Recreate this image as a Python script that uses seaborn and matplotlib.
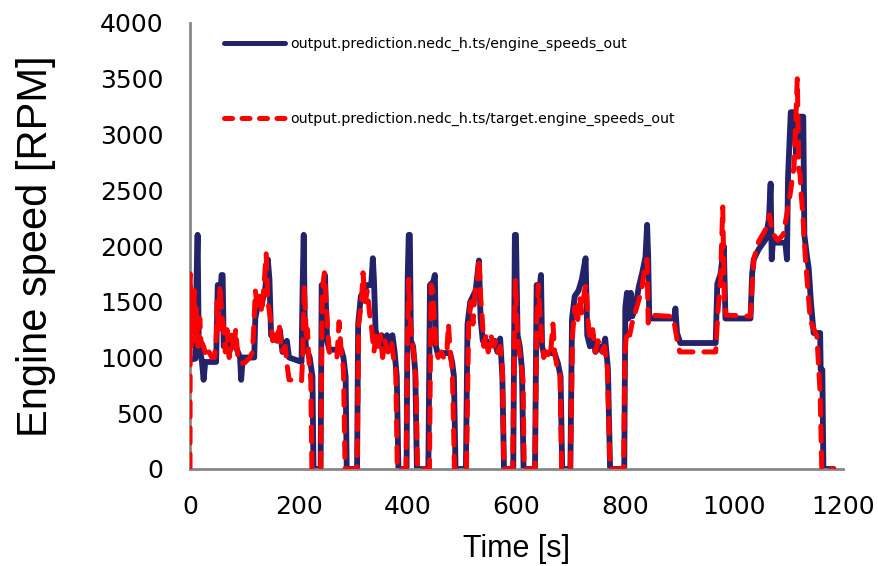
import matplotlib
matplotlib.use("Agg")
import matplotlib.pyplot as plt
import seaborn as sns
import pandas as pd

# ---- data ----
model_time = [0, 10, 12, 14, 16, 22, 25, 28, 48, 51, 56, 58, 60, 62, 66, 72, 80, 88, 92, 94, 97, 118, 120, 126, 130, 138, 143, 146, 149, 160, 165, 170, 178, 182, 205,
              207, 209, 211, 213, 220, 225, 227, 240, 242, 246, 248, 252, 256, 278, 282, 286, 288, 307, 309, 314, 320, 326, 333, 336, 338, 341, 345, 352, 356, 362, 366, 372, 376, 380, 383, 398, 400, 402,
              404, 406, 410, 414, 417, 438, 441, 447, 450, 452, 455, 478, 482, 485, 488, 507, 510, 515, 520, 525, 531, 534, 538, 545, 550, 560, 565, 570, 574, 577, 594, 597,
              599, 602, 606, 610, 613, 634, 637, 642, 645, 647, 650, 670, 676, 681, 684, 699, 702, 707, 714, 720, 727, 730, 735, 740, 745, 752, 758, 763, 768, 772, 798,
              800, 803, 806, 810, 813, 816, 820, 825, 831, 837, 840, 842, 844, 890, 892, 895, 901, 966, 969, 975, 981, 984, 1030, 1033, 1036, 1045, 1058, 1064, 1067, 1069, 1071, 1094, 1097, 1099, 1104, 1110, 1114, 1120, 1127, 1129, 1134, 1137, 1141, 1146, 1158, 1159, 1162, 1164, 1183]
model_rpm = [980, 990, 1700, 2100, 1150, 960, 800, 960, 960, 1650, 1580, 1740, 1740, 1100, 1200, 1050, 1150, 1050, 1000, 800, 1000, 1000, 1350, 1500, 1450, 1600, 1880, 1700, 1200, 1150, 1250, 1050, 1150, 1000, 960,
             1650, 2100, 1250, 1100, 1000, 830, 0, 0, 1650, 1650, 1740, 1150, 1070, 1070, 1000, 830, 0, 0, 1300, 1550, 1600, 1650, 1650, 1890, 1700, 1250, 1150, 1200, 1100, 1200, 1100, 1200, 1050, 830, 0, 0, 1700, 2100,
             2100, 1150, 1100, 870, 0, 0, 1650, 1680, 1740, 1100, 1040, 1040, 950, 830, 0, 0, 1300, 1500, 1550, 1600, 1870, 1350, 1150, 1150, 1100, 1150, 1050, 1170, 830, 0, 0, 2100,
             2100, 1200, 1100, 900, 0, 0, 1650, 1600, 1740, 1100, 1040, 1040, 950, 830, 0, 0, 1350, 1550, 1600, 1700, 1890, 1200, 1100, 1200, 1050, 1100, 1050, 1170, 900, 0, 0,
             1450, 1580, 1350, 1580, 1370, 1460, 1500, 1640, 1760, 1900, 2190, 1900, 1350, 1350, 1440, 1220, 1130, 1130, 1660, 1750, 2000, 1350, 1350, 1750, 1880, 1970, 2060, 2250, 2560, 1880, 2030, 2030, 1880, 2620, 3200, 3200, 2800, 3160, 3160, 2100, 1900, 1800, 1500, 1220, 1220, 890, 890, 0, 0]

target_time = [0, 0.5, 2, 4, 6, 8, 10, 12, 15, 18, 20, 25, 30, 35, 40, 45, 48, 50, 52, 55, 58, 62, 65, 68, 72, 76, 80, 84, 88, 92, 100, 110, 115, 118, 120, 124, 128, 132, 136, 140, 143, 148, 152, 156, 160, 164, 168, 175, 178, 182, 205,
               207, 210, 212, 214, 216, 218, 222, 224, 240, 243, 247, 250, 253, 256, 262, 270, 274, 278, 282, 285, 307, 310, 315, 318, 322, 326, 330, 334, 338, 342, 346, 350, 354, 358, 364, 370, 374, 378, 381, 397, 400, 402,
               405, 408, 412, 415, 418, 440, 443, 446, 450, 453, 456, 462, 466, 472, 475, 478, 482, 486, 508, 512, 516, 520, 524, 528, 531, 534, 537, 540, 544, 548, 553, 558, 562, 566, 570, 574, 577, 593, 596, 598,
               601, 604, 608, 612, 614, 634, 637, 640, 643, 646, 650, 655, 662, 667, 670, 675, 680, 683, 699, 703, 707, 712, 716, 720, 725, 728, 731, 735, 740, 745, 750, 756, 762, 767, 772, 797,
               799, 801, 804, 808, 812, 818, 825, 831, 837, 840, 842, 846, 880, 888, 892, 896, 900, 966, 970, 975, 979, 982, 985, 1030, 1033, 1036, 1045, 1058, 1065, 1070, 1080, 1090, 1097, 1103, 1110, 1116, 1119, 1121, 1123, 1126, 1131, 1140, 1152, 1158, 1161, 1183]
target_rpm = [0, 1750, 1100, 1550, 1200, 1600, 1150, 1450, 1100, 1350, 1150, 1100, 1000, 1050, 1000, 1000, 1150, 1500, 1200, 1650, 1400, 1250, 1050, 1250, 1000, 1200, 1050, 1250, 1000, 950, 950, 1000, 1050, 1350, 1600, 1450, 1550, 1400, 1650, 1930, 1500, 1350, 1150, 1250, 1150, 1300, 1050, 1100, 950, 800, 790,
              1000, 1650, 1400, 1150, 1250, 1000, 800, 0, 0, 1600, 1760, 1500, 1250, 1050, 1000, 1000, 1320, 1050, 900, 0, 0, 1300, 1500, 1760, 1500, 1600, 1400, 1250, 1050, 1200, 1100, 1200, 1000, 1150, 1050, 1150, 1000, 900, 0, 0, 1200, 1700,
              1300, 1150, 1000, 800, 0, 0, 1650, 1600, 1250, 1050, 1000, 1050, 1000, 1050, 1300, 1050, 900, 0, 0, 1300, 1500, 1300, 1600, 1700, 1890, 1550, 1350, 1100, 1200, 1050, 1200, 1100, 1150, 1050, 1100, 900, 0, 0, 1200, 1700,
              1300, 1100, 950, 800, 0, 0, 1300, 1650, 1400, 1200, 1000, 1050, 1000, 1300, 1050, 900, 850, 0, 0, 1200, 1450, 1300, 1550, 1400, 1600, 1650, 1350, 1150, 1250, 1050, 1150, 1050, 1100, 900, 0, 0,
              1000, 1150, 1250, 1200, 1300, 1400, 1520, 1640, 1850, 1880, 1310, 1380, 1370, 1360, 1250, 1130, 1050, 1050, 1400, 1700, 2350, 1500, 1380, 1370, 1640, 1880, 2040, 2150, 2280, 2120, 2050, 2100, 2290, 2470, 2710, 3500, 2680, 2650, 2470, 2300, 1880, 1330, 1190, 680, 0, 0]

label_model = "output.prediction.nedc_h.ts/engine_speeds_out"
label_target = "output.prediction.nedc_h.ts/target.engine_speeds_out"
x_ticks = [0, 200, 400, 600, 800, 1000, 1200]
y_ticks = [0, 500, 1000, 1500, 2000, 2500, 3000, 3500, 4000]

# ---- figure ----
sns.set_style("white")
plt.rcParams['font.family'] = ['DejaVu Sans']
plt.rcParams['text.color'] = 'black'
plt.rcParams['axes.labelcolor'] = 'black'
plt.rcParams['xtick.color'] = 'black'
plt.rcParams['ytick.color'] = 'black'

fig = plt.figure(figsize=(8.79, 5.66), dpi=100)
ax = fig.add_axes([190/879, 97/566, 653/879, 446/566])

df_m = pd.DataFrame({"t": model_time, "rpm": model_rpm})
df_t = pd.DataFrame({"t": target_time, "rpm": target_rpm})

sns.lineplot(data=df_m, x="t", y="rpm", ax=ax, sort=False, estimator=None,
             color="#23236a", linewidth=4.2, label=label_model,
             solid_capstyle="round", solid_joinstyle="round", zorder=2)
sns.lineplot(data=df_t, x="t", y="rpm", ax=ax, sort=False, estimator=None,
             color="#ff0000", linewidth=3.6, label=label_target,
             dashes=False, zorder=3)
red_line = ax.lines[1]
red_line.set_linestyle((0, (3.0, 2.2)))
red_line.set_dash_capstyle("round")
red_line.set_dash_joinstyle("round")

ax.set_xlim(0, 1200)
ax.set_ylim(0, 4000)
ax.set_xticks(x_ticks)
ax.set_yticks(y_ticks)
ax.tick_params(axis="both", direction="out", length=7, width=2, color="#888888",
               labelsize=18, pad=12, labelcolor="black")
for s in ["top", "right"]:
    ax.spines[s].set_visible(False)
for s in ["left", "bottom"]:
    ax.spines[s].set_color("#888888")
    ax.spines[s].set_linewidth(2)

ax.set_xlabel("Time [s]", fontsize=22, family="Liberation Sans", color="black")
ax.set_ylabel("Engine speed [RPM]", fontsize=30, family="Liberation Sans", color="black")
ax.xaxis.set_label_coords(0.5, -0.145)
ax.yaxis.set_label_coords(-0.205, 0.5)

leg = ax.legend(loc="upper left", bbox_to_anchor=(224/879, 1 - 37/566),
                bbox_transform=fig.transFigure, frameon=False, fontsize=10.2,
                handlelength=4.3, handletextpad=0.4, labelspacing=4.3,
                borderpad=0, borderaxespad=0)
for t in leg.get_texts():
    t.set_color("black")
for h in leg.get_lines():
    h.set_linewidth(3.6)
leg.get_lines()[1].set_linestyle((0, (1.6, 1.9)))
leg.get_lines()[1].set_dash_capstyle("round")
leg.get_lines()[0].set_solid_capstyle("round")

fig.savefig("out.png", dpi=100)
